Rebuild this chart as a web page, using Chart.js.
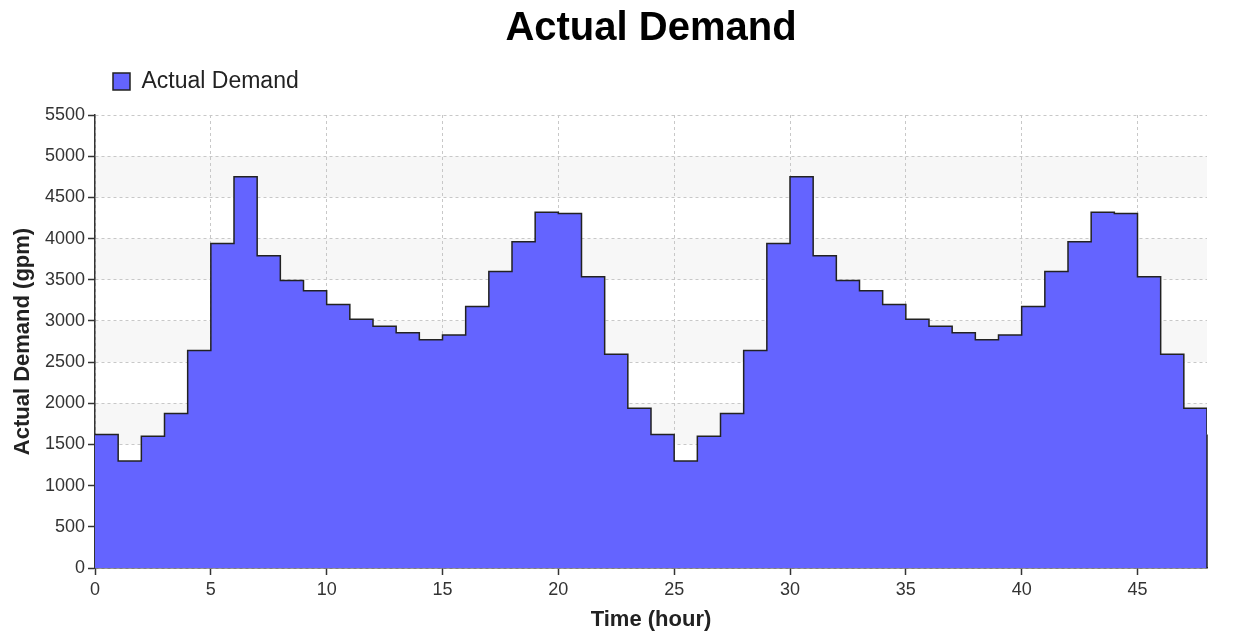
<!DOCTYPE html>
<html>
<head>
<meta charset="utf-8">
<script src="https://cdn.jsdelivr.net/npm/chart.js@4/dist/chart.umd.min.js"></script>
<style>
  html, body { margin: 0; padding: 0; background: #ffffff; }
  #wrap { width: 1250px; height: 635px; }
</style>
</head>
<body>
<div id="wrap"><canvas id="c" width="1250" height="635"></canvas></div>
<script>
// ---- data ----
const chartTitle = 'Actual Demand';
const seriesName = 'Actual Demand';
const xAxisTitle = 'Time (hour)';
const yAxisTitle = 'Actual Demand (gpm)';
const hours = [0,1,2,3,4,5,6,7,8,9,10,11,12,13,14,15,16,17,18,19,20,21,22,23,
               24,25,26,27,28,29,30,31,32,33,34,35,36,37,38,39,40,41,42,43,44,45,46,47,48];
const demand = [1620,1300,1600,1875,2640,3940,4750,3790,3490,3365,3200,3020,2935,2855,2770,2830,3175,3600,3960,4320,4305,3535,2595,1940,
                1620,1300,1600,1875,2640,3940,4750,3790,3490,3365,3200,3020,2935,2855,2770,2830,3175,3600,3960,4320,4305,3535,2595,1940,
                1620];
const xTicks = [0,5,10,15,20,25,30,35,40,45];
const yTicks = [0,500,1000,1500,2000,2500,3000,3500,4000,4500,5000,5500];
const shadedBands = [[500,1000],[1500,2000],[2500,3000],[3500,4000],[4500,5000]];

const points = hours.map((h, i) => ({ x: h, y: demand[i] }));

const bandPlugin = {
  id: 'bands',
  beforeDraw(chart) {
    const { ctx, chartArea, scales } = chart;
    ctx.save();
    ctx.fillStyle = '#f7f7f7';
    shadedBands.forEach(([lo, hi]) => {
      const y1 = scales.y.getPixelForValue(hi);
      const y2 = scales.y.getPixelForValue(lo);
      ctx.fillRect(chartArea.left, y1, chartArea.right - chartArea.left, y2 - y1);
    });
    ctx.restore();
  }
};

const closePlugin = {
  id: 'closeEdge',
  afterDatasetsDraw(chart) {
    const { ctx, scales } = chart;
    const lastX = hours[hours.length - 1];
    const lastY = demand[demand.length - 1];
    const px = scales.x.getPixelForValue(lastX);
    ctx.save();
    ctx.strokeStyle = '#222';
    ctx.lineWidth = 1.5;
    ctx.beginPath();
    ctx.moveTo(px, scales.y.getPixelForValue(lastY));
    ctx.lineTo(px, scales.y.getPixelForValue(0));
    ctx.stroke();
    ctx.restore();
  }
};

const shiftPlugin = {
  id: 'shiftBlocks',
  afterLayout(chart) {
    if (chart.legend) chart.legend.left = 92;
    if (chart.titleBlock) chart.titleBlock.left = 95;
  }
};

const FONT = 'Liberation Sans, Arial, sans-serif';

new Chart(document.getElementById('c'), {
  type: 'line',
  data: {
    datasets: [{
      label: seriesName,
      data: points,
      stepped: 'before',
      fill: 'origin',
      backgroundColor: '#6464ff',
      borderColor: '#222222',
      borderWidth: 1.5,
      pointRadius: 0,
      pointHoverRadius: 0
    }]
  },
  plugins: [bandPlugin, closePlugin, shiftPlugin],
  options: {
    responsive: false,
    animation: false,
    layout: { padding: { left: 8, right: 43, top: 0, bottom: 2 } },
    plugins: {
      title: {
        display: true,
        text: chartTitle,
        color: '#000000',
        font: { family: FONT, size: 40, weight: 'bold', lineHeight: 1.0 },
        padding: { top: 9, bottom: 0 }
      },
      subtitle: {
        display: true,
        text: '',
        weight: 500,
        font: { family: FONT, size: 12, lineHeight: 1.0 },
        padding: 0
      },
      legend: {
        display: true,
        position: 'top',
        align: 'start',
        labels: {
          boxWidth: 17,
          boxHeight: 17,
          padding: 21,
          color: '#222222',
          font: { family: FONT, size: 23 }
        }
      },
      tooltip: { enabled: false }
    },
    scales: {
      x: {
        type: 'linear',
        min: 0,
        max: 48,
        afterBuildTicks(scale) { scale.ticks = xTicks.map(v => ({ value: v })); },
        afterFit(scale) { scale.height = 65; },
        ticks: {
          color: '#333333',
          font: { family: FONT, size: 18 },
          padding: 4,
          maxRotation: 0,
          callback: (v) => String(v)
        },
        grid: {
          color: '#c8c8c8',
          lineWidth: 1,
          tickColor: '#333333',
          tickLength: 7,
          tickWidth: 1.5
        },
        border: { display: true, color: '#333333', width: 1.5, dash: [3, 3] },
        title: {
          display: true,
          text: xAxisTitle,
          color: '#222222',
          font: { family: FONT, size: 22, weight: 'bold' },
          padding: { top: 4, bottom: 0 }
        }
      },
      y: {
        type: 'linear',
        min: 0,
        max: 5500,
        afterBuildTicks(scale) { scale.ticks = yTicks.map(v => ({ value: v })); },
        afterFit(scale) { scale.width = 87; },
        ticks: {
          color: '#333333',
          font: { family: FONT, size: 18 },
          padding: 3,
          callback: (v) => String(v)
        },
        grid: {
          color: '#c8c8c8',
          lineWidth: 1,
          tickColor: '#333333',
          tickLength: 7,
          tickWidth: 1.5
        },
        border: { display: true, color: '#333333', width: 1.5, dash: [3, 3] },
        title: {
          display: true,
          text: yAxisTitle,
          color: '#222222',
          font: { family: FONT, size: 22, weight: 'bold' },
          padding: { top: 2, bottom: 0 }
        }
      }
    }
  }
});
</script>
</body>
</html>
